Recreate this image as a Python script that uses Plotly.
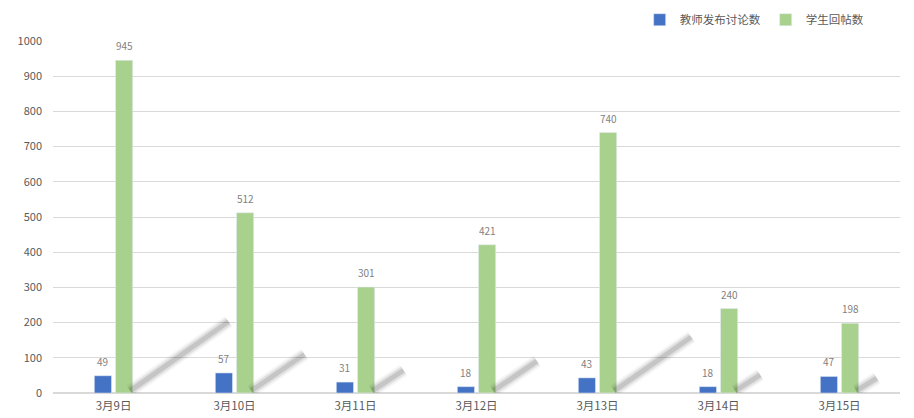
import plotly.graph_objects as go

dates = ["3月9日", "3月10日", "3月11日", "3月12日", "3月13日", "3月14日", "3月15日"]
teacher_posts = [49, 57, 31, 18, 43, 18, 47]
student_replies = [945, 512, 301, 421, 740, 240, 198]

FONT = "Noto Sans CJK SC, Microsoft YaHei, sans-serif"
BARGAP = 0.65
pos = list(range(len(dates)))
slot = (1 - BARGAP) / 2          # width of one bar slot in category units
half_bar = slot * (1 - 0.19) / 2

fig = go.Figure()

# soft diagonal shadows behind the green bars (Excel style), scaled from the values
for i, v in zip(pos, student_replies):
    x0 = i + slot / 2 + half_bar - 0.02
    xs = [x0, x0 + 0.00086 * v]
    ys = [6, 0.215 * v]
    for w, a in [(13, 0.04), (9, 0.08), (5, 0.12)]:
        fig.add_trace(go.Scatter(x=xs, y=ys, mode="lines", hoverinfo="skip", showlegend=False,
                                 line=dict(color=f"rgba(0,0,0,{a})", width=w)))

fig.add_trace(go.Bar(x=pos, y=teacher_posts, name="教师发布讨论数",
                     marker=dict(color="#4472C4")))
fig.add_trace(go.Bar(x=pos, y=student_replies, name="学生回帖数",
                     marker=dict(color="#A9D18E")))

# data labels above each bar
for i, t, s in zip(pos, teacher_posts, student_replies):
    for x, v in [(i - slot / 2, t), (i + slot / 2, s)]:
        fig.add_annotation(x=x, y=v, text=str(v), showarrow=False, yanchor="bottom", yshift=5,
                           font=dict(size=10, color="#7f7f7f"))

# the page body has an 8px margin, so margins are shifted to land the plot where the reference has it
fig.update_layout(
    width=914, height=418,
    margin=dict(l=45, r=22, t=33, b=33, autoexpand=False),
    paper_bgcolor="white", plot_bgcolor="white",
    font=dict(family=FONT, size=11, color="#595959"),
    barmode="group", bargap=BARGAP, bargroupgap=0.19,
    legend=dict(orientation="h", x=0.963, xanchor="right", y=0.972, yanchor="middle",
                yref="container", font=dict(size=11.5, color="#595959"),
                itemwidth=30, traceorder="normal"),
    xaxis=dict(range=[-0.5, len(dates) - 0.5], tickvals=pos, ticktext=dates,
               showgrid=False, ticks="", showline=False, zeroline=False,
               tickfont=dict(size=11.5), ticklabelstandoff=4, automargin=False),
    yaxis=dict(range=[0, 1000], dtick=100, gridcolor="#d9d9d9", gridwidth=1,
               zeroline=True, zerolinecolor="#d9d9d9", showline=False,
               tickfont=dict(size=11), ticklabelstandoff=10, automargin=False),
)

fig.write_html("out.html")
